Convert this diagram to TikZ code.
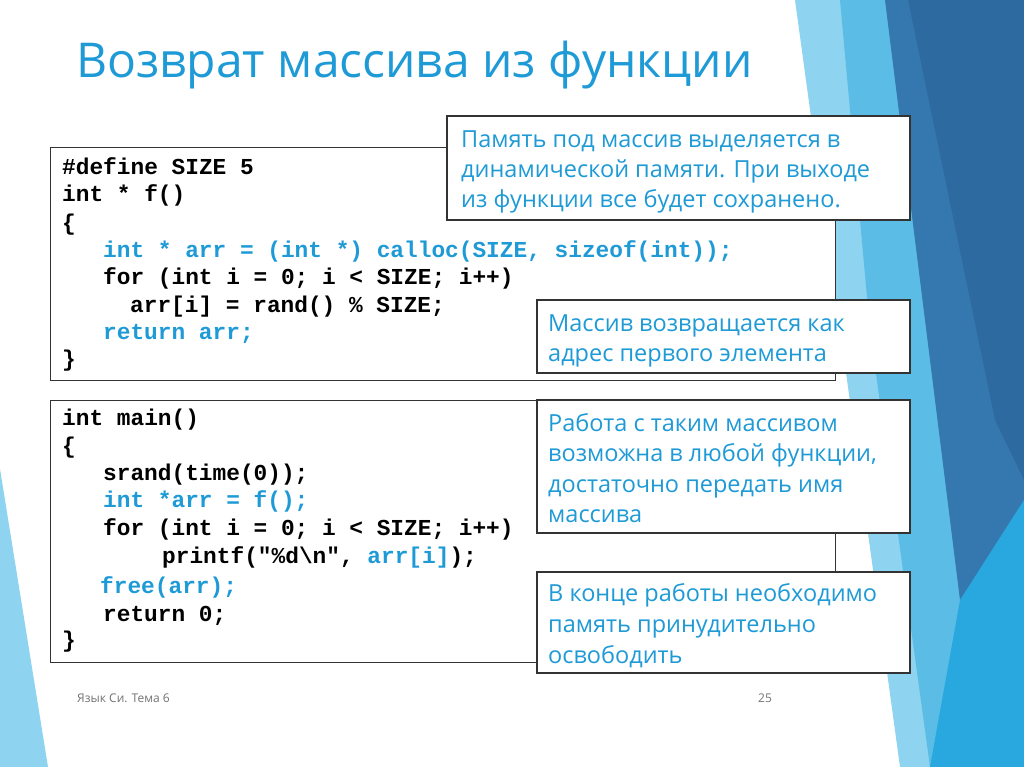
\documentclass[tikz,border=0pt]{standalone}
\usepackage{fontspec}
\setmainfont{Open Sans}
\newfontfamily\codefont{Liberation Mono}
\definecolor{tblue}{HTML}{1E9AD6}
\definecolor{d1}{HTML}{8ED3F0}
\definecolor{d2}{HTML}{5BBDE6}
\definecolor{d3}{HTML}{3578B0}
\definecolor{d4}{HTML}{2D6A9F}
\definecolor{d5}{HTML}{29A8DF}
\tikzset{
 code/.style={anchor=base west,inner sep=0pt,font=\codefont\bfseries\fontsize{22.8}{26}\selectfont},
 bl/.style={text=tblue},
 cbox/.style={draw=black!80,line width=1pt,fill=white},
 nt/.style={anchor=base west,inner sep=0pt,text=tblue,font=\fontsize{23.5}{26}\selectfont}
}
\begin{document}
\begin{tikzpicture}[x=1pt,y=-1pt]
\useasboundingbox (0,0) rectangle (1024,767);
\fill[white] (0,0) rectangle (1024,767);
% decoration
\fill[d1] (795,0)--(1024,0)--(1024,767)--(900,767)--cycle;
\fill[d2] (840,0)--(1024,0)--(1024,767)--(930,767)--(870,330)--cycle;
\fill[d3] (885,0)--(1024,0)--(1024,560)--(960,600)--cycle;
\fill[d4] (908,0)--(1024,0)--(1024,480)--(995,420)--cycle;
\fill[d5] (930,767)--(1024,767)--(1024,500)--(960,600)--cycle;
\fill[d1] (0,469)--(48,767)--(0,767)--cycle;
% title
\node[anchor=base west,inner sep=0pt,text=tblue,font=\fontsize{48}{54}\selectfont] (title) at (76,78) {Возврат массива из функции};
% code boxes
\draw[cbox] (50,148) rectangle (835,380);
\draw[cbox] (50,400) rectangle (835,662);
\node[code] (a1) at (62,175) {\#define SIZE 5};
\node[code] (a2) at (62,202) {int * f()};
\node[code] (a3) at (62,230) {\{};
\node[code,bl] (a4) at (103,257) {int * arr = (int *) calloc(SIZE, sizeof(int));};
\node[code] (a5) at (103,284) {for (int i = 0; i < SIZE; i++)};
\node[code] (a6) at (130,312) {arr[i] = rand() \% SIZE;};
\node[code,bl] (a7) at (103,339) {return arr;};
\node[code] (a8) at (62,366) {\}};
\node[code] (b1) at (62,425) {int main()};
\node[code] (b2) at (62,453) {\{};
\node[code] (b3) at (103,480) {srand(time(0));};
\node[code,bl] (b4) at (103,507) {int *arr = f();};
\node[code] (b5) at (103,535) {for (int i = 0; i < SIZE; i++)};
\node[code] (b6) at (162,563) {printf("\%d\textbackslash n", \textcolor{tblue}{arr[i]});};
\node[code,bl] (b7) at (100,593) {free(arr);};
\node[code] (b8) at (103,621) {return 0;};
\node[code] (b9) at (62,647) {\}};
% notes
\draw[cbox,line width=1.2pt] (447,116) rectangle (910,220);
\node[nt] (n1) at (461,148) {Память под массив выделяется в};
\node[nt] (n1b) at (461,178) {динамической памяти. При выходе};
\node[nt] (n1c) at (461,208) {из функции все будет сохранено.};
\draw[cbox,line width=1.2pt] (537,300) rectangle (910,373);
\node[nt] (n2) at (548,331) {Массив возвращается как};
\node[nt] (n2b) at (548,361) {адрес первого элемента};
\draw[cbox,line width=1.2pt] (537,400) rectangle (910,533);
\node[nt] (n3) at (548,431) {Работа с таким массивом};
\node[nt] (n3b) at (548,461) {возможна в любой функции,};
\node[nt] (n3c) at (548,492) {достаточно передать имя};
\node[nt] (n3d) at (548,522) {массива};
\draw[cbox,line width=1.2pt] (537,572) rectangle (910,673);
\node[nt] (n4) at (548,601) {В конце работы необходимо};
\node[nt] (n4b) at (548,632) {память принудительно};
\node[nt] (n4c) at (548,663) {освободить};
% footer
\node[anchor=base west,inner sep=0pt,text=black!55,font=\fontsize{12}{14}\selectfont] (f1) at (77,702) {Язык Си. Тема 6};
\node[anchor=base west,inner sep=0pt,text=black!55,font=\fontsize{12}{14}\selectfont] (f2) at (758,702) {25};
\end{tikzpicture}
\end{document}
